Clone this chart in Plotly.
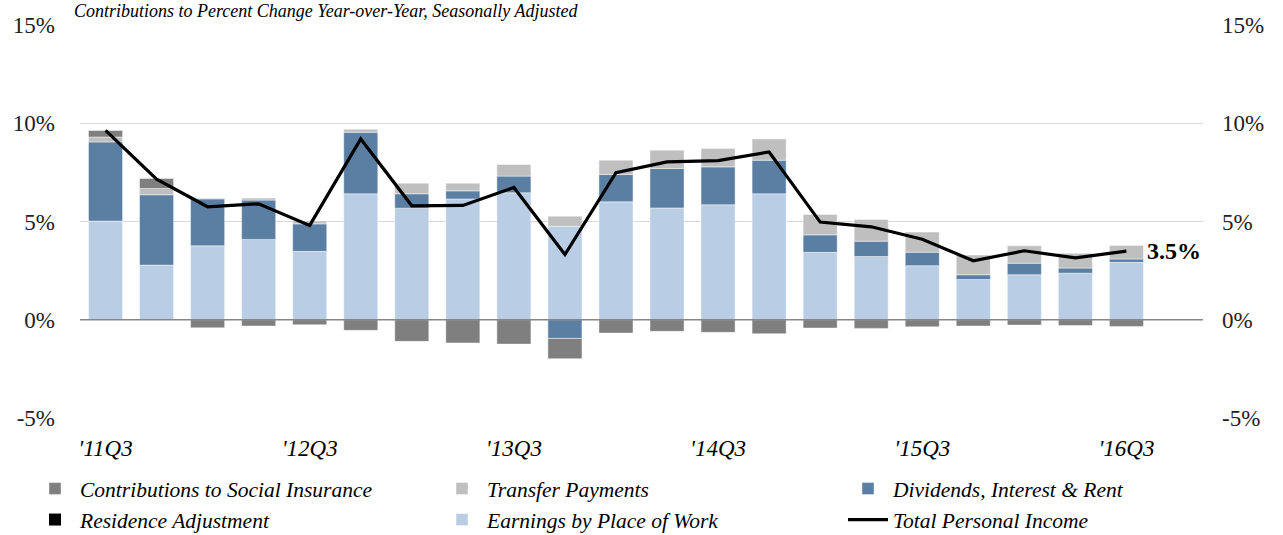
import plotly.graph_objects as go

quarters = ["'11Q3", "'11Q4", "'12Q1", "'12Q2", "'12Q3", "'12Q4", "'13Q1", "'13Q2",
            "'13Q3", "'13Q4", "'14Q1", "'14Q2", "'14Q3", "'14Q4", "'15Q1", "'15Q2",
            "'15Q3", "'15Q4", "'16Q1", "'16Q2", "'16Q3"]
tick_labels = ["'11Q3", "'12Q3", "'13Q3", "'14Q3", "'15Q3", "'16Q3"]

earnings = [5.02, 2.78, 3.76, 4.09, 3.48, 6.41, 5.68, 6.15, 6.46, 4.76, 6.00,
            5.69, 5.85, 6.41, 3.43, 3.22, 2.75, 2.05, 2.29, 2.37, 2.92]
dividends = [4.03, 3.58, 2.39, 2.00, 1.40, 3.13, 0.73, 0.41, 0.85, -0.95, 1.39,
             2.01, 1.93, 1.71, 0.89, 0.78, 0.69, 0.24, 0.59, 0.26, 0.17]
transfers = [0.25, 0.32, 0.03, 0.10, 0.15, 0.15, 0.54, 0.39, 0.59, 0.51, 0.73,
             0.93, 0.93, 1.08, 1.04, 1.10, 1.02, 1.00, 0.88, 0.75, 0.69]
contributions = [0.33, 0.51, -0.41, -0.32, -0.25, -0.54, -1.10, -1.18, -1.24, -1.03, -0.68,
                 -0.59, -0.64, -0.71, -0.42, -0.44, -0.36, -0.32, -0.27, -0.29, -0.34]
residence = [0.0] * 21
total = [9.64, 7.15, 5.75, 5.90, 4.80, 9.20, 5.80, 5.82, 6.73, 3.32, 7.49,
         8.03, 8.10, 8.54, 4.97, 4.73, 4.10, 3.00, 3.51, 3.15, 3.49]

y_ticks = [-5, 0, 5, 10, 15]
y_tick_text = ["-5%", "0%", "5%", "10%", "15%"]

C_CONTRIB = "#7F7F7F"
C_TRANSFER = "#BFBFBF"
C_DIV = "#5A7FA2"
C_RES = "#000000"
C_EARN = "#B9CDE5"

SERIF = "Liberation Serif"
x_idx = list(range(len(quarters)))

fig = go.Figure()
edge = dict(color="rgba(255,255,255,0.55)", width=0.8)
# trace order sets the stacking (earnings at the bottom); legend/legendrank place the legend entries
fig.add_trace(go.Bar(x=x_idx, y=earnings, name="Earnings by Place of Work",
                     legend="legend2", legendrank=2, marker=dict(color=C_EARN, line=edge)))
fig.add_trace(go.Bar(x=x_idx, y=dividends, name="Dividends, Interest &amp; Rent",
                     legend="legend3", legendrank=1, marker=dict(color=C_DIV, line=edge)))
fig.add_trace(go.Bar(x=x_idx, y=transfers, name="Transfer Payments",
                     legend="legend2", legendrank=1, marker=dict(color=C_TRANSFER, line=edge)))
fig.add_trace(go.Bar(x=x_idx, y=contributions, name="Contributions to Social Insurance",
                     legend="legend", legendrank=1, marker=dict(color=C_CONTRIB, line=edge)))
fig.add_trace(go.Bar(x=x_idx, y=residence, name="Residence Adjustment",
                     legend="legend", legendrank=2, marker=dict(color=C_RES, line=dict(width=0))))
fig.add_trace(go.Scatter(x=x_idx, y=total, name="Total Personal Income", mode="lines",
                         legend="legend3", legendrank=2, line=dict(color="#000000", width=3.2)))
# invisible trace so the right axis shows its labels
fig.add_trace(go.Scatter(x=[x_idx[0]], y=[total[0]], yaxis="y2", mode="markers",
                         marker=dict(opacity=0), showlegend=False, hoverinfo="skip"))

legend_font = dict(family=SERIF, size=21.5, style="italic", color="#000000")


def legend_box(xpx):
    return dict(orientation="v", xref="container", yref="container",
                x=xpx / 1283, xanchor="left", y=0.125, yanchor="top",
                traceorder="normal", font=legend_font, itemwidth=40,
                tracegroupgap=0, bgcolor="rgba(0,0,0,0)")


fig.update_layout(
    barmode="relative",
    bargap=0.333,
    width=1283, height=535,
    margin=dict(l=80, r=80, t=25, b=117, autoexpand=False),
    plot_bgcolor="white", paper_bgcolor="white",
    font=dict(family=SERIF, color="#000000"),
    showlegend=True,
    legend=legend_box(30),
    legend2=legend_box(437),
    legend3=legend_box(843),
    xaxis=dict(
        range=[-0.5, 21.5],
        tickmode="array",
        tickvals=[x_idx[quarters.index(t)] for t in tick_labels],
        ticktext=tick_labels,
        tickfont=dict(family=SERIF, size=23, style="italic", color="#000000"),
        showgrid=False, zeroline=False, showline=False, ticks="",
        ticklabelstandoff=14,
    ),
    yaxis=dict(
        range=[-5, 15],
        tickmode="array", tickvals=y_ticks, ticktext=y_tick_text,
        tickfont=dict(family=SERIF, size=23, color="#222222"),
        showgrid=True, gridcolor="#D9D9D9", gridwidth=1,
        zeroline=False, showline=False, ticks="",
        ticklabelstandoff=24,
    ),
    yaxis2=dict(
        range=[-5, 15], overlaying="y", side="right",
        tickmode="array", tickvals=y_ticks, ticktext=y_tick_text,
        tickfont=dict(family=SERIF, size=23, color="#222222"),
        showgrid=False, zeroline=False, showline=False, ticks="",
        ticklabelstandoff=18,
    ),
    shapes=[dict(type="line", xref="paper", x0=0, x1=1, yref="y", y0=0, y1=0,
                 line=dict(color="#868686", width=1.5), layer="above")],
    annotations=[
        dict(text="Contributions to Percent Change Year-over-Year, Seasonally Adjusted",
             xref="paper", yref="paper", x=-0.007, y=1.0, xanchor="left", yanchor="middle",
             yshift=14, showarrow=False,
             font=dict(family=SERIF, size=18, style="italic", color="#000000")),
        dict(text="<b>3.5%</b>", xref="x", yref="y", x=x_idx[-1], y=total[-1],
             xanchor="left", yanchor="middle", xshift=19, showarrow=False,
             font=dict(family=SERIF, size=24, color="#000000")),
    ],
)

fig.write_html("out.html", config={"displayModeBar": False},
               post_script="document.body.style.margin='0px';")
